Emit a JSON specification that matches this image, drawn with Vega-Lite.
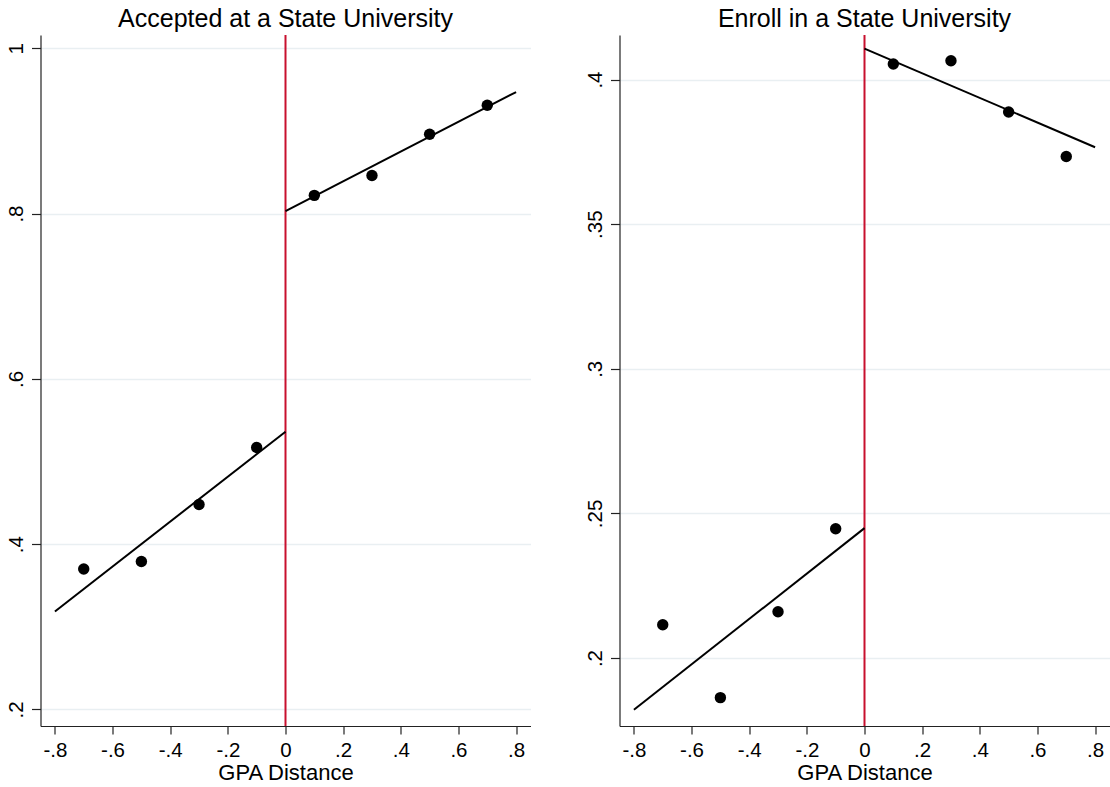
{
  "$schema": "https://vega.github.io/schema/vega-lite/v6.json",
  "padding": {"left": 6.5, "top": 7, "right": 0, "bottom": 5},
  "background": "white",
  "bounds": "flush",
  "spacing": 89,
  "config": {
    "view": {"stroke": null},
    "font": "Liberation Sans",
    "axis": {
      "domainColor": "#222222",
      "domainWidth": 1.2,
      "tickColor": "#222222",
      "tickWidth": 1.2,
      "tickSize": 8,
      "labelFont": "Liberation Sans",
      "labelFontSize": 20.5,
      "labelColor": "#000000",
      "titleFont": "Liberation Sans",
      "titleFontSize": 22,
      "titleFontWeight": "normal",
      "titleColor": "#000000",
      "gridColor": "#e9eff2",
      "gridWidth": 1.5,
      "labelExpr": "replace(toString(datum.value), '0.', '.')"
    },
    "axisX": {"grid": false, "labelPadding": 6, "titlePadding": 2, "labelFlush": false},
    "axisY": {"grid": true, "labelAngle": -90, "tickSize": 9, "labelPadding": 5, "title": null, "labelFlush": false},
    "title": {"font": "Liberation Sans", "fontSize": 25, "fontWeight": "normal", "color": "#000000", "anchor": "middle", "offset": 2, "baseline": "alphabetic"}
  },
  "datasets": {
    "points": [
      {"panel": "accepted", "x": -0.7, "y": 0.370},
      {"panel": "accepted", "x": -0.5, "y": 0.379},
      {"panel": "accepted", "x": -0.3, "y": 0.448},
      {"panel": "accepted", "x": -0.1, "y": 0.517},
      {"panel": "accepted", "x": 0.1, "y": 0.822},
      {"panel": "accepted", "x": 0.3, "y": 0.846},
      {"panel": "accepted", "x": 0.5, "y": 0.896},
      {"panel": "accepted", "x": 0.7, "y": 0.931},
      {"panel": "enroll", "x": -0.7, "y": 0.2115},
      {"panel": "enroll", "x": -0.5, "y": 0.1863},
      {"panel": "enroll", "x": -0.3, "y": 0.2160},
      {"panel": "enroll", "x": -0.1, "y": 0.2447},
      {"panel": "enroll", "x": 0.1, "y": 0.4054},
      {"panel": "enroll", "x": 0.3, "y": 0.4065},
      {"panel": "enroll", "x": 0.5, "y": 0.3888},
      {"panel": "enroll", "x": 0.7, "y": 0.3734}
    ],
    "fits": [
      {"panel": "accepted", "side": "left", "x": -0.8, "y": 0.3186},
      {"panel": "accepted", "side": "left", "x": 0, "y": 0.536},
      {"panel": "accepted", "side": "right", "x": 0, "y": 0.803},
      {"panel": "accepted", "side": "right", "x": 0.8, "y": 0.947},
      {"panel": "enroll", "side": "left", "x": -0.8, "y": 0.1821},
      {"panel": "enroll", "side": "left", "x": 0, "y": 0.2449},
      {"panel": "enroll", "side": "right", "x": 0, "y": 0.4107},
      {"panel": "enroll", "side": "right", "x": 0.8, "y": 0.3766}
    ],
    "cutoff": [{"cut": 0}]
  },
  "hconcat": [
    {
      "width": 490,
      "height": 691,
      "title": {"text": "Accepted at a State University"},
      "layer": [
        {
          "data": {"name": "cutoff"},
          "mark": {"type": "rule", "color": "#c8102e", "strokeWidth": 2},
          "encoding": {
            "x": {"field": "cut", "type": "quantitative", "scale": {"domain": [-0.85, 0.85], "nice": false, "zero": false},
              "axis": {"values": [-0.8, -0.6, -0.4, -0.2, 0, 0.2, 0.4, 0.6, 0.8], "title": "GPA Distance"}}
          }
        },
        {
          "data": {"name": "fits"},
          "transform": [{"filter": "datum.panel == 'accepted'"}],
          "mark": {"type": "line", "color": "black", "strokeWidth": 2},
          "encoding": {
            "x": {"field": "x", "type": "quantitative"},
            "y": {"field": "y", "type": "quantitative", "scale": {"domain": [0.180, 1.016], "nice": false, "zero": false},
              "axis": {"values": [0.2, 0.4, 0.6, 0.8, 1]}},
            "detail": {"field": "side"}
          }
        },
        {
          "data": {"name": "points"},
          "transform": [{"filter": "datum.panel == 'accepted'"}],
          "mark": {"type": "point", "filled": true, "color": "black", "size": 130, "opacity": 1},
          "encoding": {
            "x": {"field": "x", "type": "quantitative"},
            "y": {"field": "y", "type": "quantitative"}
          }
        }
      ]
    },
    {
      "width": 490,
      "height": 691,
      "title": {"text": "Enroll in a State University"},
      "layer": [
        {
          "data": {"name": "cutoff"},
          "mark": {"type": "rule", "color": "#c8102e", "strokeWidth": 2},
          "encoding": {
            "x": {"field": "cut", "type": "quantitative", "scale": {"domain": [-0.85, 0.85], "nice": false, "zero": false},
              "axis": {"values": [-0.8, -0.6, -0.4, -0.2, 0, 0.2, 0.4, 0.6, 0.8], "title": "GPA Distance"}}
          }
        },
        {
          "data": {"name": "fits"},
          "transform": [{"filter": "datum.panel == 'enroll'"}],
          "mark": {"type": "line", "color": "black", "strokeWidth": 2},
          "encoding": {
            "x": {"field": "x", "type": "quantitative"},
            "y": {"field": "y", "type": "quantitative", "scale": {"domain": [0.1765, 0.4154], "nice": false, "zero": false},
              "axis": {"values": [0.2, 0.25, 0.3, 0.35, 0.4]}},
            "detail": {"field": "side"}
          }
        },
        {
          "data": {"name": "points"},
          "transform": [{"filter": "datum.panel == 'enroll'"}],
          "mark": {"type": "point", "filled": true, "color": "black", "size": 130, "opacity": 1},
          "encoding": {
            "x": {"field": "x", "type": "quantitative"},
            "y": {"field": "y", "type": "quantitative"}
          }
        }
      ]
    }
  ]
}
